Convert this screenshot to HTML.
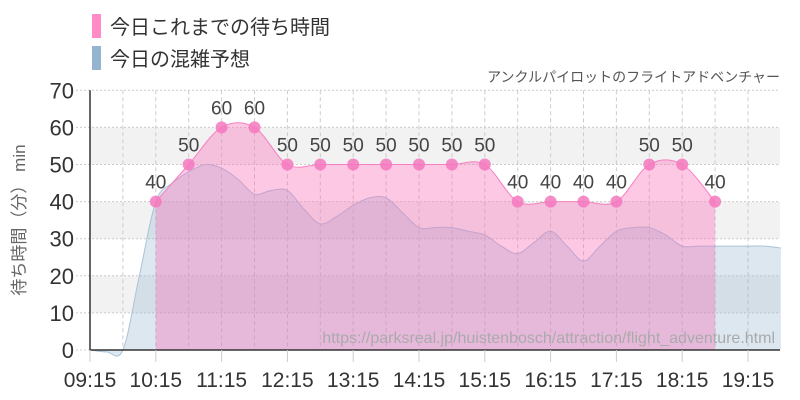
<!DOCTYPE html>
<html><head><meta charset="utf-8">
<style>
body{margin:0;background:#fff;}
svg{display:block;font-family:"Liberation Sans Narrow","Liberation Sans","Noto Sans CJK JP",sans-serif;}
.jp{font-family:"Liberation Sans","Noto Sans CJK JP",sans-serif;}
</style></head><body>
<svg id="chart" width="800" height="400">
<g id="bands"></g><g id="grid"></g><g id="areas"></g><g id="marks"></g><g id="axes"></g>
<rect x="92" y="14" width="9" height="24" fill="#ff8cc6"/>
<text class="jp" x="110" y="34" font-size="20" fill="#333">今日これまでの待ち時間</text>
<rect x="92" y="46" width="9" height="24" fill="#94b4d0"/>
<text class="jp" x="110" y="66" font-size="20" fill="#333">今日の混雑予想</text>
<text class="jp" x="780" y="82" font-size="14" fill="#555" text-anchor="end">アンクルパイロットのフライトアドベンチャー</text>
<text class="jp" transform="translate(25,220) rotate(-90)" font-size="17" fill="#666" text-anchor="middle">待ち時間（分） min</text>
<text x="775" y="343" font-size="16" fill="#aaa" text-anchor="end" font-family="Liberation Sans, sans-serif">https://parksreal.jp/huistenbosch/attraction/flight_adventure.html</text>
</svg>
<script>
const xTickLabels=["09:15","10:15","11:15","12:15","13:15","14:15","15:15","16:15","17:15","18:15","19:15"];
const yTicks=[0,10,20,30,40,50,60,70];
// actual waits, every 30 min from 10:15 (minutes since 09:15)
const actualStart=60;
const actualValues=[40,50,60,60,50,50,50,50,50,50,50,40,40,40,40,50,50,40];
// forecast every 15 min from 09:15
const forecastValues=[0,-0.5,0,20,40,45,48,50,49,46,42,43,43,38,34,36,39,41,41,37,33,33,33,32,31,28,26,29,32,28,24,28,32,33,33,31,28,28,28,28,28,28,27.5];
const NS='http://www.w3.org/2000/svg';
const X0=90,PXM=65.8/60,Y0=350,PXV=37.1/10;
const xs=m=>X0+m*PXM, ys=v=>Y0-v*PXV;
function mk(p,t,a){const e=document.createElementNS(NS,t);for(const k in a)e.setAttribute(k,a[k]);document.getElementById(p).appendChild(e);return e;}
function smooth(pts){let d=`M${pts[0][0]},${pts[0][1]}`;for(let i=0;i<pts.length-1;i++){const p0=pts[i-1]||pts[i],p1=pts[i],p2=pts[i+1],p3=pts[i+2]||p2;
d+=` C${p1[0]+(p2[0]-p0[0])/6},${p1[1]+(p2[1]-p0[1])/6} ${p2[0]-(p3[0]-p1[0])/6},${p2[1]-(p3[1]-p1[1])/6} ${p2[0]},${p2[1]}`;}return d;}
const XEND=780;
for(let i=1;i<yTicks.length-1;i+=2){const r=mk('bands','rect',{x:X0,y:ys(yTicks[i+1]),width:XEND-X0,height:ys(yTicks[i])-ys(yTicks[i+1]),fill:'#f2f2f2'});
}
yTicks.forEach(v=>{const l=mk('grid','line',{x1:X0-14,x2:XEND,y1:ys(v),y2:ys(v),stroke:'#ccc','stroke-dasharray':'2,2'});

const t=mk('axes','text',{x:74,y:ys(v)+8,'font-size':22,fill:'#333','text-anchor':'end'});t.textContent=v;
});
for(let m=30;X0+m*PXM<XEND;m+=30){const l=mk('grid','line',{x1:xs(m),x2:xs(m),y1:ys(70),y2:Y0,stroke:'#ccc','stroke-dasharray':'4,3'});
}
const fp=forecastValues.map((v,i)=>[xs(i*15),ys(v)]);
const fpath=smooth(fp);
const fa=mk('areas','path',{d:fpath+` L${fp[fp.length-1][0]},${Y0} L${fp[0][0]},${Y0} Z`,fill:'rgba(140,175,205,0.3)',stroke:'none'});

const fl=mk('areas','path',{d:fpath,fill:'none',stroke:'#a9c3d8','stroke-width':1});

const ap=actualValues.map((v,i)=>[xs(actualStart+i*30),ys(v)]);
const apath=smooth(ap);
const aa=mk('areas','path',{d:apath+` L${ap[ap.length-1][0]},${Y0} L${ap[0][0]},${Y0} Z`,fill:'rgba(248,110,185,0.38)',stroke:'none'});

const al=mk('areas','path',{d:apath,fill:'none',stroke:'#f77fc0','stroke-width':1});

ap.forEach((p,i)=>{const c=mk('marks','circle',{cx:p[0],cy:p[1],r:6,fill:'rgba(245,120,190,0.85)'});

const t=mk('marks','text',{x:p[0],y:p[1]-13,'font-size':19,fill:'#444','text-anchor':'middle'});t.textContent=actualValues[i];
});
const ya=mk('axes','line',{x1:X0,x2:X0,y1:ys(70),y2:Y0,stroke:'#333','stroke-width':1.5});

const xa=mk('axes','line',{x1:X0,x2:XEND,y1:Y0,y2:Y0,stroke:'#333','stroke-width':1.5});

xTickLabels.forEach((s,i)=>{const x=xs(i*60);
const l=mk('axes','line',{x1:x,x2:x,y1:Y0,y2:Y0+12,stroke:'#ccc'});
const t=mk('axes','text',{x:x,y:387,'font-size':21,fill:'#333','text-anchor':'middle'});t.textContent=s;
});
</script>
</body></html>
